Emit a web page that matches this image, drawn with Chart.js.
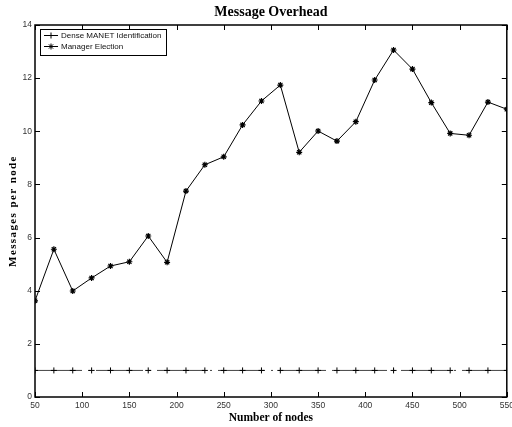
<!DOCTYPE html>
<html>
<head>
<meta charset="utf-8">
<script src="https://cdn.jsdelivr.net/npm/chart.js@4"></script>
<style>
  html, body { margin: 0; padding: 0; background: #fff; }
  #wrap { width: 512px; height: 427px; }
</style>
</head>
<body>
<div id="wrap"><canvas id="overheadChart" width="512" height="427"></canvas></div>
<script>
// data
var nodes = [50, 70, 90, 110, 130, 150, 170, 190, 210, 230, 250, 270, 290,
             310, 330, 350, 370, 390, 410, 430, 450, 470, 490, 510, 530, 550];
var denseManet = [1, 1, 1, 1, 1, 1, 1, 1, 1, 1, 1, 1, 1,
                  1, 1, 1, 1, 1, 1, 1, 1, 1, 1, 1, 1, 1];
var managerElection = [3.62, 5.56, 3.99, 4.48, 4.93, 5.09, 6.06, 5.07, 7.75, 8.74, 9.04, 10.24, 11.14,
                       11.74, 9.21, 10.01, 9.63, 10.36, 11.93, 13.06, 12.34, 11.08, 9.92, 9.85, 11.1, 10.83];
var xTicks = [50, 100, 150, 200, 250, 300, 350, 400, 450, 500, 550];
var yTicks = [0, 2, 4, 6, 8, 10, 12, 14];

var tickFont = "'Liberation Sans Narrow', 'Liberation Sans', Arial, sans-serif";
var serifFont = "'Liberation Serif', 'Times New Roman', serif";

function toPoints(xs, ys) {
    var pts = [];
    for (var i = 0; i < xs.length; i++) {
        pts.push({ x: xs[i], y: ys[i] });
    }
    return pts;
}

// box, inward ticks, legend, titles (matlab look)
var matlabFrame = {
    id: "matlabFrame",
    afterDraw: function (chart) {
        var ctx = chart.ctx;
        var a = chart.chartArea;
        var xs = chart.scales.x;
        var ys = chart.scales.y;
        ctx.save();
        ctx.strokeStyle = "#000";
        ctx.lineWidth = 1.5;
        ctx.strokeRect(a.left, a.top, a.right - a.left, a.bottom - a.top);

        ctx.lineWidth = 1;
        ctx.beginPath();
        xTicks.forEach(function (v) {
            var px = Math.round(xs.getPixelForValue(v)) + 0.5;
            ctx.moveTo(px, a.bottom); ctx.lineTo(px, a.bottom - 5);
            ctx.moveTo(px, a.top); ctx.lineTo(px, a.top + 5);
        });
        yTicks.forEach(function (v) {
            var py = Math.round(ys.getPixelForValue(v)) + 0.5;
            ctx.moveTo(a.left, py); ctx.lineTo(a.left + 5, py);
            ctx.moveTo(a.right, py); ctx.lineTo(a.right - 5, py);
        });
        ctx.stroke();

        // legend
        var lx = 40, ly = 29, lw = 126, lh = 26;
        ctx.fillStyle = "#fff";
        ctx.fillRect(lx, ly, lw, lh);
        ctx.strokeStyle = "#000";
        ctx.lineWidth = 1;
        ctx.strokeRect(lx + 0.5, ly + 0.5, lw, lh);
        ctx.font = "8px 'Liberation Sans', Arial, sans-serif";
        ctx.textBaseline = "middle";
        ctx.textAlign = "left";
        chart.data.datasets.forEach(function (ds, i) {
            var yy = ly + 6.5 + i * 11;
            ctx.strokeStyle = "#000";
            ctx.beginPath();
            ctx.moveTo(lx + 4, yy); ctx.lineTo(lx + 18, yy);
            ctx.stroke();
            Chart.helpers.drawPoint(ctx, {
                pointStyle: ds.pointStyle, radius: 3, borderWidth: 1
            }, lx + 11, yy);
            ctx.fillStyle = "#111";
            ctx.fillText(ds.label, lx + 21, yy);
        });

        // title centred over the plot box
        ctx.font = "bold 14px " + serifFont;
        ctx.textAlign = "center";
        ctx.fillStyle = "#000";
        ctx.fillText("Message Overhead", (a.left + a.right) / 2, 12);

        // y axis title with spaced letters
        ctx.translate(13, (a.top + a.bottom) / 2);
        ctx.rotate(-Math.PI / 2);
        ctx.font = "bold 11px " + serifFont;
        ctx.letterSpacing = "1.4px";
        ctx.fillText("Messages per node", 0, 0);
        ctx.restore();
    }
};

var ctx = document.getElementById("overheadChart").getContext("2d");
var overheadChart = new Chart(ctx, {
    type: "line",
    data: {
        datasets: [
            {
                label: "Dense MANET Identification",
                data: toPoints(nodes, denseManet),
                borderColor: "#444",
                borderWidth: 1,
                borderDash: [47, 6, 2, 6],
                pointStyle: "cross",
                pointRadius: 3,
                pointBorderColor: "#000",
                pointBorderWidth: 1,
                fill: false,
            },
            {
                label: "Manager Election",
                data: toPoints(nodes, managerElection),
                borderColor: "#000",
                borderWidth: 1,
                pointStyle: "star",
                pointRadius: 3,
                pointBorderColor: "#000",
                pointBackgroundColor: "#000",
                pointBorderWidth: 1.2,
                fill: false,
            },
        ],
    },
    options: {
        responsive: false,
        animation: false,
        layout: { padding: { left: 0, right: 4, top: 25, bottom: 0 } },
        plugins: {
            legend: { display: false },
            tooltip: { enabled: false },
            title: { display: false },
        },
        scales: {
            x: {
                type: "linear",
                min: 50,
                max: 550,
                afterFit: function (s) { s.height = 30; s.paddingRight = 0; s.paddingLeft = 0; },
                afterBuildTicks: function (s) { s.ticks = xTicks.map(function (v) { return { value: v }; }); },
                grid: { display: false, drawTicks: false },
                border: { display: false },
                ticks: {
                    padding: 4,
                    color: "#333",
                    maxRotation: 0,
                    autoSkip: false,
                    font: { family: tickFont, size: 8.5 },
                },
                title: {
                    display: true,
                    text: "Number of nodes",
                    color: "#000",
                    font: { family: serifFont, size: 11.5, weight: "bold" },
                    padding: { top: 0, bottom: 2 },
                },
            },
            y: {
                min: 0,
                max: 14,
                afterFit: function (s) { s.width = 35; s.paddingTop = 0; s.paddingBottom = 0; },
                afterBuildTicks: function (s) { s.ticks = yTicks.map(function (v) { return { value: v }; }); },
                grid: { display: false, drawTicks: false },
                border: { display: false },
                ticks: {
                    padding: 3,
                    color: "#333",
                    autoSkip: false,
                    font: { family: tickFont, size: 8.5 },
                },
            },
        },
    },
    plugins: [matlabFrame],
});
</script>
</body>
</html>
